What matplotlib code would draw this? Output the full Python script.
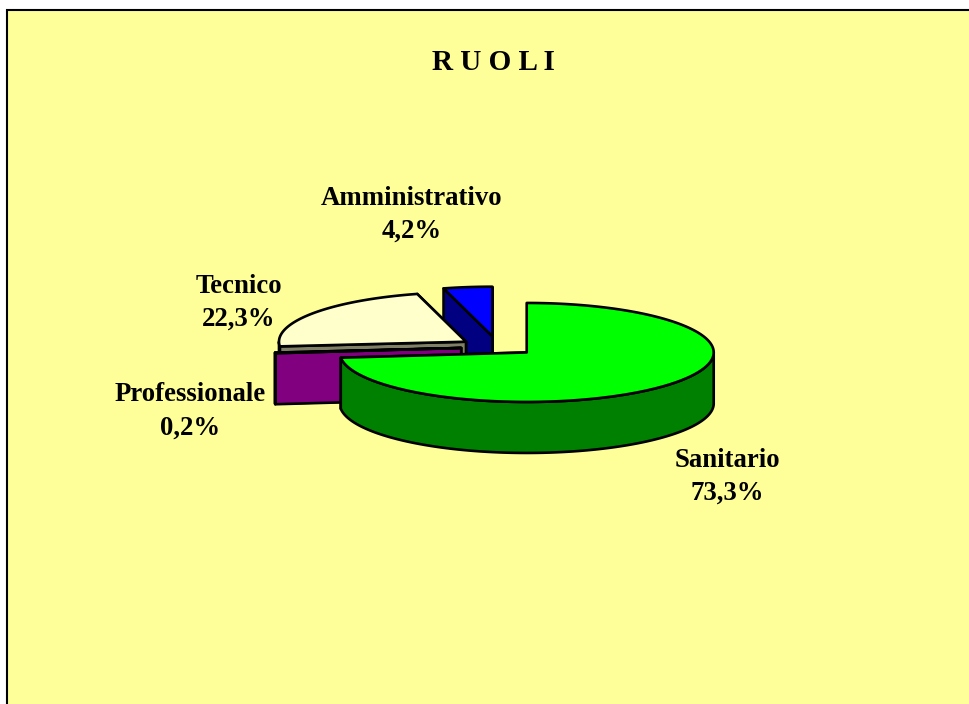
import numpy as np
import matplotlib
matplotlib.use("Agg")
import matplotlib.pyplot as plt
from matplotlib.patches import Polygon, Rectangle

categories = ["Sanitario", "Professionale", "Tecnico", "Amministrativo"]
shares = [73.3, 0.2, 22.3, 4.2]
share_labels = ["73,3%", "0,2%", "22,3%", "4,2%"]
title = "R U O L I"

top_colors = ["#00FF00", "#FF00FF", "#FFFFCC", "#0000FF"]
side_colors = ["#008000", "#800080", "#808066", "#000080"]
explode = [0.21, 0.195, 0.205, 0.21]
nudge_y = [0.0, 1.5, 2.0, 1.0]
draw_order = [3, 2, 1, 0]
label_pos = [(727, 477), (190.5, 411.5), (238.5, 303), (411.5, 215)]

CX, CY, RX, RY, DEPTH = 497.5, 345.5, 187.0, 49.5, 51.0
LW = 1.9
FONT = "Liberation Serif"

fig = plt.figure(figsize=(9.69, 7.04), dpi=100, facecolor="white")
ax = fig.add_axes([0, 0, 1, 1])
ax.set_xlim(0, 969)
ax.set_ylim(704, 0)
ax.axis("off")

ax.add_patch(Rectangle((7, 10), 1000, 800, facecolor="#FFFF99", edgecolor="black", lw=1.5, zorder=0))


def rim(ax0, ay0, a0, a1):
    n = max(2, int(abs(a1 - a0) * 2) + 2)
    t = np.radians(np.linspace(a0, a1, n))
    return np.column_stack([ax0 + RX * np.sin(t), ay0 - RY * np.cos(t)])


def poly(points, face, z):
    ax.add_patch(Polygon(points, closed=True, facecolor=face, edgecolor="black",
                         lw=LW, joinstyle="round", zorder=z))


fractions = np.array(shares) / sum(shares)
edges = np.concatenate([[0], np.cumsum(fractions)]) * 360.0

z = 1
for i in draw_order:
    a0, a1 = edges[i], edges[i + 1]
    mid = np.radians((a0 + a1) / 2)
    px = CX + explode[i] * RX * np.sin(mid)
    py = CY - explode[i] * RY * np.cos(mid) + nudge_y[i]
    down = np.array([0, DEPTH])
    apex = np.array([px, py])
    # cut faces, far one first
    for ang in (a1, a0):
        p = rim(px, py, ang, ang)[0]
        poly([apex, p, p + down, apex + down], side_colors[i], z); z += 1
    # outer wall on the front half of the rim
    lo, hi = max(a0, 90.0), min(a1, 270.0)
    if hi > lo:
        arc = rim(px, py, lo, hi)
        poly(np.vstack([arc, (arc + down)[::-1]]), side_colors[i], z); z += 1
    # top surface
    poly(np.vstack([apex, rim(px, py, a0, a1)]), top_colors[i], z); z += 1

for name, pct, (x, y) in zip(categories, share_labels, label_pos):
    ax.text(x, y, f"{name}\n{pct}", ha="center", va="center", family=FONT,
            weight="bold", fontsize=19.3, linespacing=1.43, color="black", zorder=z)

ax.text(493, 63, title, ha="center", va="center", family=FONT, weight="bold",
        fontsize=21, color="black", zorder=z)

fig.savefig("out.png", dpi=100, facecolor="white")
